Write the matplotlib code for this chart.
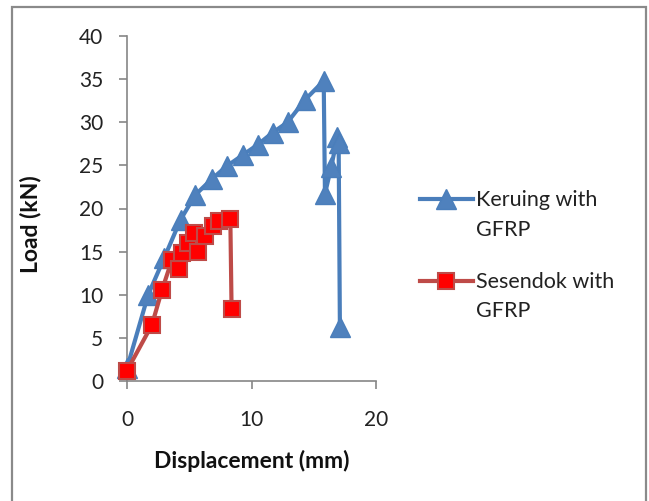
import matplotlib
matplotlib.use("Agg")
import matplotlib.pyplot as plt
from matplotlib.patches import Rectangle

# ---- data ----
keruing_x = [0, 1.7, 3.0, 4.3, 5.5, 6.8, 8.0, 9.3, 10.5, 11.7, 12.9, 14.3, 15.8, 15.9, 16.4, 16.9, 17.0, 17.1]
keruing_y = [1.5, 10.0, 14.3, 18.7, 21.6, 23.4, 24.9, 26.2, 27.4, 28.8, 30.0, 32.6, 34.8, 21.7, 24.8, 28.3, 27.6, 6.3]

sesendok_x = [0, 2.0, 2.8, 3.6, 4.2, 4.4, 4.9, 5.4, 5.7, 6.3, 6.9, 7.4, 8.3, 8.4]
sesendok_y = [1.2, 6.5, 10.5, 14.0, 13.0, 14.8, 16.0, 17.2, 15.0, 16.8, 18.0, 18.5, 18.8, 8.3]

series_labels = ["Keruing with\nGFRP", "Sesendok with\nGFRP"]
x_ticks = [0, 10, 20]
y_ticks = [0, 5, 10, 15, 20, 25, 30, 35, 40]
x_label = "Displacement (mm)"
y_label = "Load (kN)"

plt.rcParams['font.family'] = ['Lato', 'DejaVu Sans']

W, H = 649, 501
fig = plt.figure(figsize=(W / 100, H / 100), dpi=100)
fig.patch.set_facecolor('white')
ax = fig.add_axes([127 / W, 1 - 381 / H, (376 - 127) / W, (381 - 36) / H])

# outer frame
fig.add_artist(Rectangle((12 / W, -0.05), (646 - 12) / W, 1.05 - 7 / H,
                         transform=fig.transFigure, fill=False,
                         edgecolor='#8a8a8a', lw=1.6, clip_on=False))

blue_line = '#4A7EBB'
blue_mark = '#4F81BD'
red_line = '#BE4B48'
red_mark = '#FF0000'

ax.plot(keruing_x, keruing_y, color=blue_line, lw=3, marker='^', ms=14,
        markerfacecolor=blue_mark, markeredgecolor=blue_line, markeredgewidth=1,
        clip_on=False, zorder=3, label=series_labels[0])
ax.plot(sesendok_x, sesendok_y, color=red_line, lw=3, marker='s', ms=11,
        markerfacecolor=red_mark, markeredgecolor=red_line, markeredgewidth=1.5,
        clip_on=False, zorder=4, label=series_labels[1])

ax.set_xlim(0, 20)
ax.set_ylim(0, 40)
ax.set_xticks(x_ticks)
ax.set_yticks(y_ticks)
for s in ['top', 'right']:
    ax.spines[s].set_visible(False)
for s in ['left', 'bottom']:
    ax.spines[s].set_color('#868686')
    ax.spines[s].set_linewidth(1.2)
ax.tick_params(axis='both', direction='out', length=6, width=1.2, color='#868686',
               labelsize=15, labelcolor='#222222')
ax.tick_params(axis='y', pad=11)
ax.tick_params(axis='x', pad=15)

ax.set_xlabel(x_label, fontsize=16.5, fontweight='bold', labelpad=14, color='#111111')
ax.set_ylabel(y_label, fontsize=16.5, fontweight='bold', color='#111111')
ax.yaxis.set_label_coords(-0.342, 0.455)

leg = ax.legend(loc='upper left', bbox_to_anchor=(420 / W, 1 - 190 / H),
                bbox_transform=fig.transFigure, frameon=False,
                fontsize=15.5, handlelength=2.45, handletextpad=0.15,
                labelspacing=1.5, handleheight=1.25, borderpad=0, borderaxespad=0)
for t in leg.get_texts():
    t.set_color('#222222')
    t.set_linespacing(1.6)
# align handles with the first line of each label
try:
    vp = leg._legend_handle_box
    for col in vp.get_children():
        for hp in col.get_children():
            hp.align = 'top'
except Exception:
    pass

fig.savefig('out.png', dpi=100, facecolor='white')
